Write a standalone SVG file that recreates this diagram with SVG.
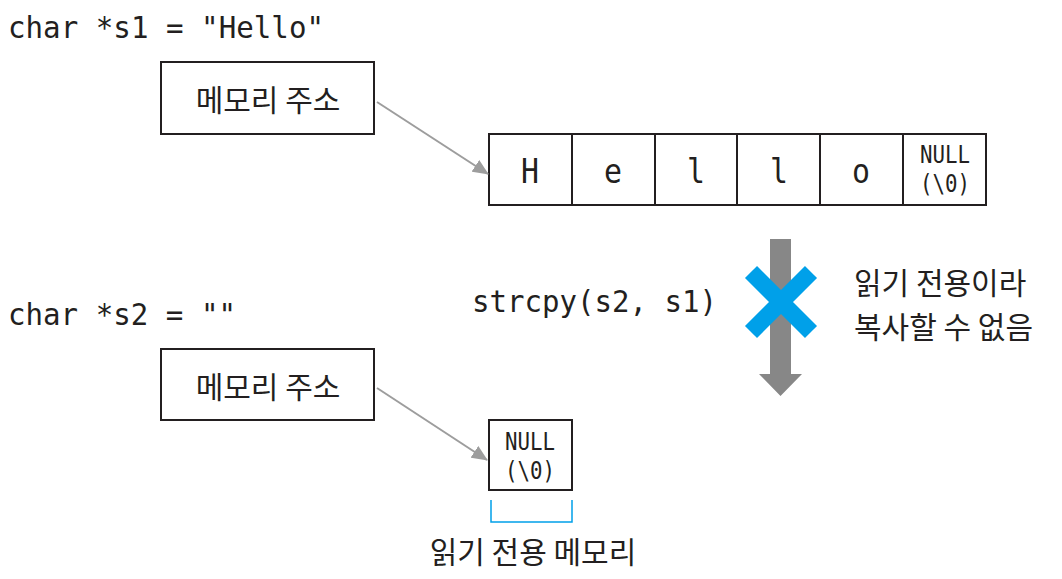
<svg xmlns="http://www.w3.org/2000/svg" width="1062" height="579" viewBox="0 0 1062 579">
<style>
.code{font-family:"DejaVu Sans Mono","Liberation Mono",monospace;fill:#231f20;font-size:30px}
.cell{font-family:"DejaVu Sans Mono","Liberation Mono",monospace;fill:#231f20;font-size:34px;text-anchor:middle}
.nul{font-family:"DejaVu Sans Mono","Liberation Mono",monospace;fill:#231f20;font-size:24px;text-anchor:middle}
.kr{font-family:"Noto Sans CJK KR","Noto Sans",sans-serif;fill:#231f20;font-size:30px}
.box{fill:#fff;stroke:#231f20;stroke-width:2}
.link{stroke:#9d9d9d;stroke-width:2;fill:none}
</style>
<defs>
<marker id="ah" markerWidth="16" markerHeight="14" refX="15" refY="7" orient="auto" markerUnits="userSpaceOnUse">
<path d="M0,0 L16,7 L0,14 z" fill="#9d9d9d"/>
</marker>
</defs>
<g id="title1"><text class="code" x="8" y="38" textLength="316" lengthAdjust="spacingAndGlyphs">char *s1 = "Hello"</text></g>
<g id="title2"><text class="code" x="8" y="325" textLength="228" lengthAdjust="spacingAndGlyphs">char *s2 = ""</text></g>
<g id="addr1"><rect class="box" x="161" y="62" width="213" height="72"/><text class="kr" x="268" y="111" text-anchor="middle">메모리 주소</text></g>
<g id="addr2"><rect class="box" x="161" y="349" width="213" height="71"/><text class="kr" x="268" y="398" text-anchor="middle">메모리 주소</text></g>
<g id="array">
<rect class="box" x="489" y="134" width="497" height="71"/>
<path d="M572,134V205M655,134V205M737,134V205M820,134V205M903,134V205" stroke="#231f20" stroke-width="2"/>
<text class="cell" x="530" y="183" textLength="18" lengthAdjust="spacingAndGlyphs">H</text>
<text class="cell" x="613" y="183" textLength="18" lengthAdjust="spacingAndGlyphs">e</text>
<text class="cell" x="696" y="183" textLength="18" lengthAdjust="spacingAndGlyphs">l</text>
<text class="cell" x="779" y="183" textLength="18" lengthAdjust="spacingAndGlyphs">l</text>
<text class="cell" x="861" y="183" textLength="18" lengthAdjust="spacingAndGlyphs">o</text>
<text class="nul" x="945" y="163" textLength="50" lengthAdjust="spacingAndGlyphs">NULL</text>
<text class="nul" x="945" y="192" textLength="50" lengthAdjust="spacingAndGlyphs">(\0)</text>
</g>
<g id="nullbox">
<rect class="box" x="489" y="420" width="83" height="70"/>
<text class="nul" x="530" y="450" textLength="50" lengthAdjust="spacingAndGlyphs">NULL</text>
<text class="nul" x="530" y="479" textLength="50" lengthAdjust="spacingAndGlyphs">(\0)</text>
</g>
<g id="bracket"><path d="M491,500V522H572V500" fill="none" stroke="#00a0e9" stroke-width="1.5"/></g>
<g id="rolabel"><text class="kr" x="533" y="563" text-anchor="middle">읽기 전용 메모리</text></g>
<g id="strcpy"><text class="code" x="472" y="312" textLength="245" lengthAdjust="spacingAndGlyphs">strcpy(s2, s1)</text></g>
<g id="bigarrow"><path d="M770,239H791V374H802L780.5,396L759,374H770Z" fill="#878787"/></g>
<g id="cross"><path d="M751,272L811,332M811,272L751,332" stroke="#00a0e9" stroke-width="17" stroke-linecap="butt"/></g>
<g id="note"><text class="kr" x="854" y="294">읽기 전용이라</text><text class="kr" x="854" y="338">복사할 수 없음</text></g>
<g id="connectors">
<line class="link" x1="377" y1="102" x2="488" y2="174" marker-end="url(#ah)"/>
<line class="link" x1="377" y1="388" x2="487" y2="460" marker-end="url(#ah)"/>
</g>
</svg>
